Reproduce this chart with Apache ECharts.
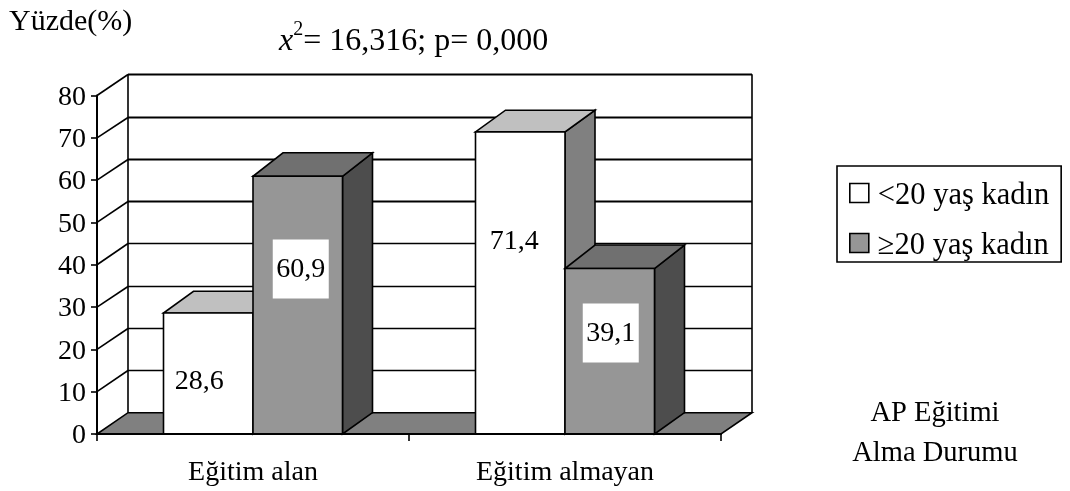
<!DOCTYPE html>
<html><head><meta charset="utf-8">
<style>html,body{margin:0;padding:0;background:#fff}#c{width:1070px;height:491px}</style>
<script src="https://cdn.jsdelivr.net/npm/echarts@6/dist/echarts.min.js"></script>
</head><body><div id="c"></div>
<script>
const categories = ['Eğitim alan', 'Eğitim almayan'];
const youngName = '<20 yaş kadın';
const olderName = '≥20 yaş kadın';
const youngValues = [28.6, 71.4];
const olderValues = [60.9, 39.1];
const youngLabels = ['28,6', '71,4'];
const olderLabels = ['60,9', '39,1'];
const yTicks = [0, 10, 20, 30, 40, 50, 60, 70, 80];

const FONT = '"Liberation Serif","Times New Roman",serif';
const DX = 31, DY = 21.3, BAR_DEPTH_X = 30;
const BAR_W = 89.5;

function lineEl(x1, y1, x2, y2, w) {
  return {type: 'line', shape: {x1, y1, x2, y2}, style: {stroke: '#000', lineWidth: w || 1.6}};
}
function poly(points, fill) {
  return {type: 'polygon', shape: {points}, style: {fill, stroke: '#000', lineWidth: 1.6, lineJoin: 'miter'}};
}

function renderWall(params, api) {
  const g = params.coordSys;
  const v = api.value(1);
  const p = api.coord([0, v]);
  const y = p[1], l = g.x, r = g.x + g.width;
  const children = [];
  if (v === 0) {
    children.push(poly([[l, y], [r, y], [r + DX, y - DY], [l + DX, y - DY]], '#808080'));
    children.push(lineEl(l + DX, g.y - DY, l + DX, y - DY));
    children.push(lineEl(r + DX, g.y - DY, r + DX, y - DY));
  } else {
    const by = Math.round(y - DY) + 0.5;
    children.push(lineEl(l + DX, by, r + DX, by, v >= 50 ? 1.8 : 1.4));
    children.push(lineEl(l, y, l + DX, by));
  }
  return {type: 'group', children};
}

function makeBar(side, labels, front, top, sideCol, topDy, labelFrac, labelDx, boxed) {
  return function (params, api) {
    const i = api.value(0), v = api.value(1);
    const base = api.coord([i, 0]);
    const head = api.coord([i, v]);
    const x0 = side < 0 ? base[0] - BAR_W : base[0];
    const x1 = x0 + BAR_W;
    const yb = base[1], yt = head[1];
    const children = [
      poly([[x1, yb], [x1 + BAR_DEPTH_X, yb - DY], [x1 + BAR_DEPTH_X, yt - topDy], [x1, yt]], sideCol),
      poly([[x0, yt], [x1, yt], [x1 + BAR_DEPTH_X, yt - topDy], [x0 + BAR_DEPTH_X, yt - topDy]], top),
      poly([[x0, yb], [x1, yb], [x1, yt], [x0, yt]], front)
    ];
    const cx = (x0 + x1) / 2 + labelDx[i];
    const cy = yb - (yb - yt) * labelFrac[i];
    if (boxed) {
      children.push({type: 'rect', shape: {x: cx - 28, y: cy - 29.5, width: 56, height: 59}, style: {fill: '#fff'}});
    }
    children.push({type: 'text', style: {text: labels[i], x: cx, y: cy + 1, align: 'center', verticalAlign: 'middle',
      font: '28px ' + FONT, fill: '#000'}});
    return {type: 'group', children};
  };
}

const titleStyle = {fontFamily: FONT, fontSize: 28.5, fontWeight: 'normal', color: '#000'};
const chart = echarts.init(document.getElementById('c'));
chart.setOption({
  animation: false,
  backgroundColor: '#fff',
  textStyle: {fontFamily: FONT, color: '#000'},
  grid: {left: 97, width: 624, top: 95.5, height: 338.5, containLabel: false},
  title: [
    {text: 'Yüzde(%)', left: 4, top: 2, textStyle: {fontFamily: FONT, fontSize: 30, fontWeight: 'normal', color: '#000'}},
    {text: '{i|x}{s|2}{n|= 16,316; p= 0,000}', left: 274, top: 15,
      textStyle: {fontWeight: 'normal', rich: {
        i: {fontFamily: FONT, fontSize: 32, fontStyle: 'italic', fontWeight: 'normal', padding: [6, 0, 0, 0], color: '#000'},
        s: {fontFamily: FONT, fontSize: 20, fontWeight: 'normal', verticalAlign: 'top', color: '#000'},
        n: {fontFamily: FONT, fontSize: 32, fontWeight: 'normal', padding: [6, 0, 0, 0], color: '#000'}
      }}},
    {text: 'AP Eğitimi', left: 930, top: 394, textAlign: 'center', textStyle: titleStyle},
    {text: 'Alma Durumu', left: 930, top: 434, textAlign: 'center', textStyle: titleStyle}
  ],
  legend: {
    orient: 'vertical', left: 837, top: 166,
    padding: [9, 12, 1, 12], itemGap: 14, itemWidth: 19, itemHeight: 19,
    borderColor: '#000', borderWidth: 1.6, backgroundColor: '#fff',
    formatter: name => '{t|' + name + '}',
    textStyle: {fontFamily: FONT, fontSize: 30.5, lineHeight: 25, color: '#000', padding: [0, 0, 0, 4],
      rich: {t: {fontFamily: FONT, fontSize: 30.5, lineHeight: 25, color: '#000', padding: [5, 0, 0, 0]}}},
    data: [
      {name: youngName, icon: 'rect', itemStyle: {color: '#fff', borderColor: '#000', borderWidth: 1.6}},
      {name: olderName, icon: 'rect', itemStyle: {color: '#969696', borderColor: '#000', borderWidth: 1.6}}
    ]
  },
  xAxis: {
    type: 'category', data: categories, z: 5,
    axisLine: {lineStyle: {color: '#000', width: 2}},
    axisTick: {show: true, length: 7, lineStyle: {color: '#000', width: 1.6}},
    axisLabel: {color: '#000', fontFamily: FONT, fontSize: 28, margin: 25}
  },
  yAxis: {
    type: 'value', min: 0, max: 80, interval: 10, z: 5,
    axisLine: {show: true, lineStyle: {color: '#000', width: 2}},
    axisTick: {show: true, length: 6, lineStyle: {color: '#000', width: 1.6}},
    splitLine: {show: false},
    axisLabel: {margin: 11, formatter: '{a|{value}}',
      rich: {a: {color: '#000', fontFamily: FONT, fontSize: 28, padding: [4, 0, 0, 0]}}}
  },
  series: [
    {type: 'custom', name: 'wall', z: 1, silent: true, clip: false, renderItem: renderWall,
      data: yTicks.map(t => [0, t]), encode: {x: 0, y: 1}},
    {type: 'custom', name: youngName, z: 2, clip: false,
      renderItem: makeBar(-1, youngLabels, '#fff', '#c0c0c0', '#808080', 21.7, [0.44, 0.64], [-9, -6], false),
      data: youngValues.map((v, i) => [i, v]), encode: {x: 0, y: 1}},
    {type: 'custom', name: olderName, z: 3, clip: false,
      renderItem: makeBar(1, olderLabels, '#969696', '#707070', '#4d4d4d', 23.5, [0.64, 0.61], [3, 1], true),
      data: olderValues.map((v, i) => [i, v]), encode: {x: 0, y: 1}}
  ]
});
</script></body></html>
